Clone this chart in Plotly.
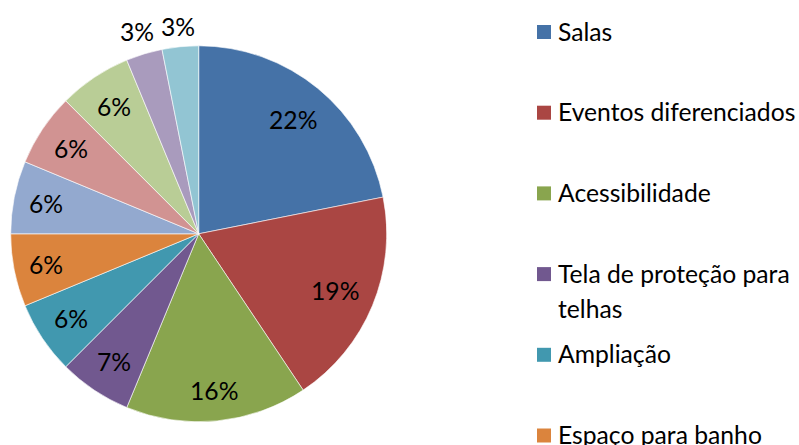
import math
import textwrap
import plotly.graph_objects as go

# ---- data ----
categories = [
    "Salas",
    "Eventos diferenciados",
    "Acessibilidade",
    "Tela de proteção para telhas",
    "Ampliação",
    "Espaço para banho",
    "Item 7",
    "Item 8",
    "Item 9",
    "Item 10",
    "Item 11",
]
values = [7, 6, 5, 2, 2, 2, 2, 2, 2, 1, 1]
pct_labels = ["22%", "19%", "16%", "7%", "6%", "6%", "6%", "6%", "6%", "3%", "3%"]
colors = [
    "#4572A7", "#AA4643", "#89A54E", "#71588F", "#4198AF", "#DB843D",
    "#93A9CF", "#D19392", "#B9CD96", "#A99BBD", "#92C5D3",
]

# ---- layout constants ----
W, H = 799, 445
FONT = "Lato, Calibri, 'Liberation Sans', sans-serif"
FS = 24.7
cx, cy, R = 198.7, 233.8, 188.0

fig = go.Figure(
    go.Pie(
        labels=categories,
        values=values,
        textinfo="none",
        sort=False,
        direction="clockwise",
        rotation=0,
        marker=dict(colors=colors, line=dict(color="white", width=0.6)),
        domain=dict(
            x=[(cx - R) / W, (cx + R) / W],
            y=[(H - cy - R) / H, (H - cy + R) / H],
        ),
        showlegend=False,
        hoverinfo="label+percent",
    )
)

annotations, shapes = [], []

# ---- data labels (Excel "best fit" style), placed along each slice's mid angle ----
total = float(sum(values))
cum = 0.0
for v, lab in zip(values, pct_labels):
    mid = (cum + v / 2.0) / total
    cum += v
    th = 2 * math.pi * mid
    s, c = math.sin(th), math.cos(th)
    w = FS * (0.58 * (len(lab) - 1) + 0.8)
    h = 0.72 * FS
    ext = abs(w / 2 * s) + abs(h / 2 * c)
    if v / total < 0.05:
        r = R + 10 + ext                      # outside label for thin slices
    else:
        r = R - (12 + 7 * abs(c)) - ext       # inside label
    px, py = cx + r * s, cy - r * c
    annotations.append(dict(
        text=lab, xref="paper", yref="paper",
        x=px / W, y=1 - py / H, xanchor="center", yanchor="middle",
        showarrow=False,
        font=dict(family=FONT, size=FS, color="black"),
    ))

# ---- custom legend (Excel style, clipped at bottom) ----
sq_x0, sq_size, txt_x = 537.0, 14.0, 556.0
row0, row_step, line_h = 31.0, 80.7, 35.0
for i, (name, col) in enumerate(zip(categories, colors)):
    yc = row0 + i * row_step
    if yc > H:
        break
    shapes.append(dict(
        type="rect", xref="paper", yref="paper",
        x0=sq_x0 / W, x1=(sq_x0 + sq_size) / W,
        y0=1 - (yc + 1 + sq_size / 2) / H, y1=1 - (yc + 1 - sq_size / 2) / H,
        fillcolor=col, line=dict(width=0),
    ))
    for j, line in enumerate(textwrap.wrap(name, 21)):
        annotations.append(dict(
            text=line, xref="paper", yref="paper",
            x=txt_x / W, y=1 - (yc + j * line_h) / H,
            xanchor="left", yanchor="middle", showarrow=False,
            font=dict(family=FONT, size=FS, color="black"),
        ))

fig.update_layout(
    width=W, height=H,
    margin=dict(l=0, r=0, t=0, b=0),
    paper_bgcolor="white", plot_bgcolor="white",
    shapes=shapes, annotations=annotations,
)

fig.write_html(
    "out.html",
    config={"displayModeBar": False},
    post_script="document.body.style.margin='0';document.body.style.overflow='hidden';",
)
